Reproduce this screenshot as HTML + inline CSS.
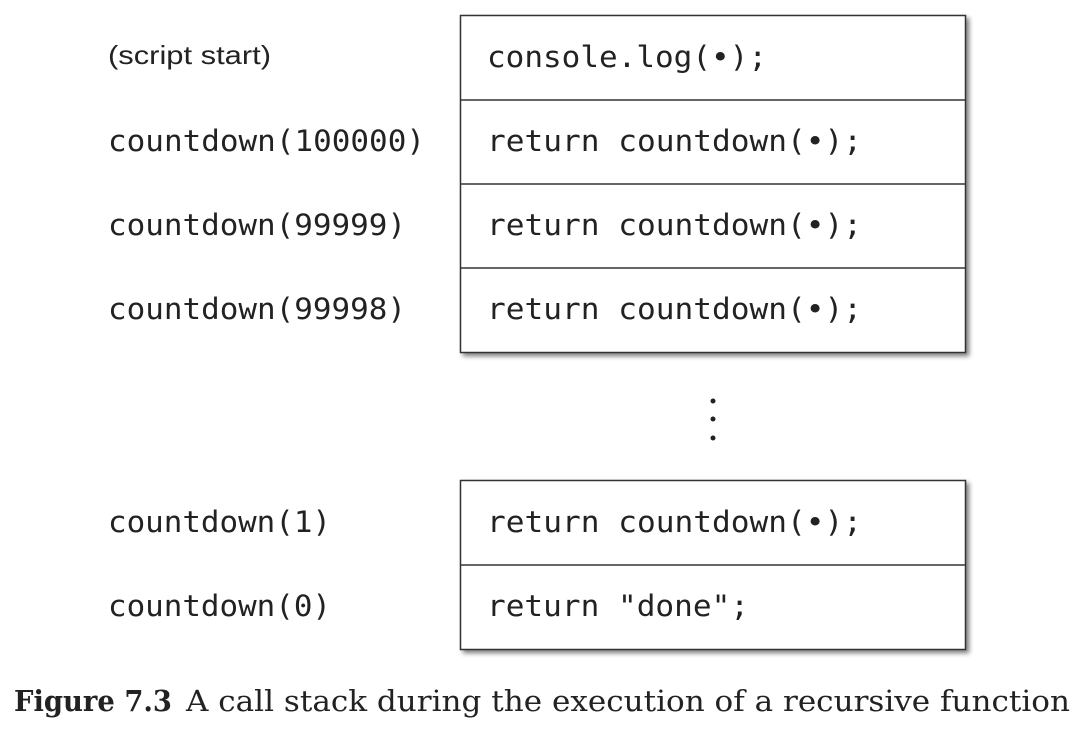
<!DOCTYPE html>
<html><head><style>html,body{margin:0;padding:0;background:#fff;width:1082px;height:750px;overflow:hidden}</style></head>
<body>
<svg width="1082" height="750" xmlns="http://www.w3.org/2000/svg">
<defs><filter id="sh" x="-5%" y="-5%" width="115%" height="115%"><feGaussianBlur in="SourceAlpha" stdDeviation="2.5"/><feOffset dx="3" dy="3"/><feComponentTransfer><feFuncA type="linear" slope="0.5"/></feComponentTransfer><feMerge><feMergeNode/><feMergeNode in="SourceGraphic"/></feMerge></filter></defs>
<rect x="460.5" y="15.5" width="505" height="337" fill="#fff" stroke="#333" stroke-width="1.5" filter="url(#sh)"/>
<line x1="460" y1="100" x2="966" y2="100" stroke="#333" stroke-width="1.5"/>
<line x1="460" y1="184" x2="966" y2="184" stroke="#333" stroke-width="1.5"/>
<line x1="460" y1="268" x2="966" y2="268" stroke="#333" stroke-width="1.5"/>
<rect x="460.5" y="480.5" width="505" height="169" fill="#fff" stroke="#333" stroke-width="1.5" filter="url(#sh)"/>
<line x1="460" y1="565" x2="966" y2="565" stroke="#333" stroke-width="1.5"/>
<g font-family="DejaVu Sans Mono, monospace" font-size="29" fill="#222">
<text x="487" y="67" textLength="280" lengthAdjust="spacingAndGlyphs">console.log(•);</text>
<text x="487" y="151" textLength="375" lengthAdjust="spacingAndGlyphs">return countdown(•);</text>
<text x="487" y="235" textLength="375" lengthAdjust="spacingAndGlyphs">return countdown(•);</text>
<text x="487" y="319" textLength="375" lengthAdjust="spacingAndGlyphs">return countdown(•);</text>
<text x="487" y="532" textLength="375" lengthAdjust="spacingAndGlyphs">return countdown(•);</text>
<text x="487" y="616" textLength="262" lengthAdjust="spacingAndGlyphs">return "done";</text>
<text x="108" y="151" textLength="317" lengthAdjust="spacingAndGlyphs">countdown(100000)</text>
<text x="108" y="235" textLength="298" lengthAdjust="spacingAndGlyphs">countdown(99999)</text>
<text x="108" y="319" textLength="298" lengthAdjust="spacingAndGlyphs">countdown(99998)</text>
<text x="108" y="532" textLength="223" lengthAdjust="spacingAndGlyphs">countdown(1)</text>
<text x="108" y="616" textLength="223" lengthAdjust="spacingAndGlyphs">countdown(0)</text>
</g>
<text x="108" y="64" font-family="Liberation Sans, sans-serif" font-size="26" fill="#222" textLength="163" lengthAdjust="spacingAndGlyphs">(script start)</text>
<circle cx="713" cy="401" r="2.5" fill="#222"/>
<circle cx="713" cy="419" r="2.5" fill="#222"/>
<circle cx="713" cy="438" r="2.5" fill="#222"/>
<text x="14" y="711" font-family="DejaVu Serif, serif" font-size="29" font-weight="bold" fill="#222" textLength="158" lengthAdjust="spacingAndGlyphs">Figure 7.3</text>
<text x="186" y="711" font-family="DejaVu Serif, serif" font-size="29" fill="#222" textLength="884" lengthAdjust="spacingAndGlyphs">A call stack during the execution of a recursive function</text>
</svg>
</body></html>
